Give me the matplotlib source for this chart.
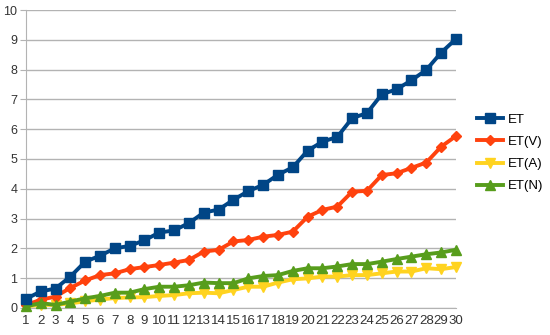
import numpy as np
import matplotlib
matplotlib.use("Agg")
import matplotlib.pyplot as plt

plt.rcParams['font.family'] = ['Liberation Sans', 'DejaVu Sans']

x = list(range(1, 31))
et = [0.3, 0.55, 0.65, 1.05, 1.55, 1.75, 2.0, 2.08, 2.27, 2.53, 2.6, 2.85, 3.2, 3.3, 3.63, 3.92, 4.13, 4.47, 4.72, 5.28, 5.58, 5.74, 6.37, 6.54, 7.17, 7.34, 7.64, 7.99, 8.57, 9.03]
et_v = [0.1, 0.27, 0.38, 0.67, 0.92, 1.1, 1.16, 1.3, 1.37, 1.44, 1.52, 1.61, 1.89, 1.95, 2.23, 2.28, 2.39, 2.45, 2.56, 3.06, 3.29, 3.4, 3.9, 3.93, 4.46, 4.52, 4.7, 4.88, 5.41, 5.77]
et_a = [0.05, 0.1, 0.1, 0.15, 0.22, 0.28, 0.33, 0.35, 0.36, 0.4, 0.43, 0.49, 0.51, 0.49, 0.6, 0.71, 0.71, 0.85, 0.96, 0.99, 1.05, 1.05, 1.1, 1.1, 1.16, 1.22, 1.22, 1.33, 1.3, 1.37]
et_n = [0.05, 0.16, 0.1, 0.21, 0.32, 0.4, 0.51, 0.51, 0.63, 0.71, 0.71, 0.76, 0.85, 0.83, 0.83, 0.99, 1.07, 1.1, 1.24, 1.33, 1.33, 1.39, 1.47, 1.47, 1.55, 1.64, 1.72, 1.8, 1.86, 1.95]

fig = plt.figure(figsize=(5.5, 3.35), dpi=100)
ax = fig.add_axes([0.047, 0.081, 0.782, 0.889])

ax.plot(x, et, color='#004586', marker='s', markersize=7, lw=2.8, label='ET', zorder=4)
ax.plot(x, et_v, color='#ff420e', marker='D', markersize=5, lw=2.8, label='ET(V)', zorder=3)
ax.plot(x, et_a, color='#ffd320', marker='v', markersize=7, lw=2.8, label='ET(A)', zorder=2)
ax.plot(x, et_n, color='#579d1c', marker='^', markersize=7, lw=2.8, label='ET(N)', zorder=3)

ax.set_xlim(1, 30)
ax.set_ylim(0, 10)
ax.set_xticks(x)
ax.set_yticks(range(0, 11))
ax.grid(axis='y', color='#b3b3b3', lw=1)
ax.set_axisbelow(True)
for s in ['top', 'right']:
    ax.spines[s].set_visible(False)
ax.spines['left'].set_color('#b3b3b3')
ax.spines['bottom'].set_color('#b3b3b3')
ax.tick_params(axis='y', length=4, color='#b3b3b3', labelsize=9, pad=2)
ax.tick_params(axis='x', length=0, labelsize=9.5, pad=5)
ax.set_xticklabels([str(i) for i in x])
for lab in ax.get_xticklabels() + ax.get_yticklabels():
    lab.set_color('#333333')

leg = ax.legend(loc='center left', bbox_to_anchor=(1.0, 0.52), frameon=False,
                fontsize=9.5, handlelength=2.0, labelspacing=0.75, handletextpad=0.3,
                borderaxespad=1.2)
for line in ax.get_lines():
    line.set_clip_on(False)

fig.savefig('out.png')
